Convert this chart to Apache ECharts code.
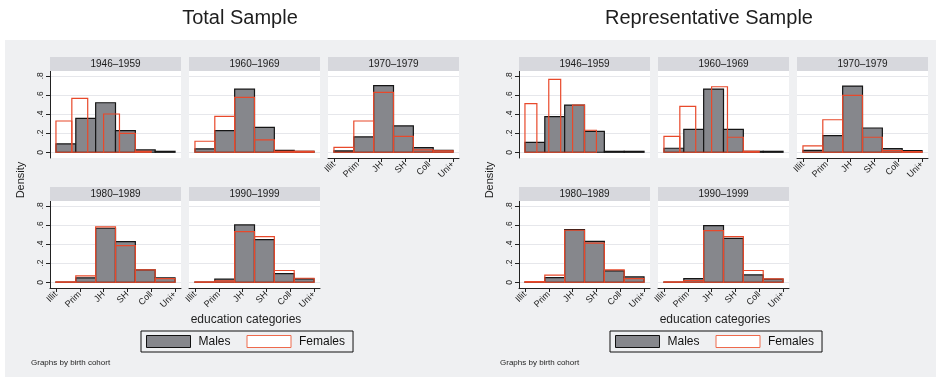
<!DOCTYPE html>
<html>
<head>
<meta charset="utf-8">
<script src="https://cdn.jsdelivr.net/npm/echarts@6/dist/echarts.min.js"></script>
<style>
  html, body { margin: 0; padding: 0; background: #ffffff; }
  #bg { position: absolute; left: 5px; top: 40px; width: 931px; height: 337px; background: #eff0f2; }
  #chart { position: absolute; left: 0; top: 0; width: 936px; height: 377px; }
</style>
</head>
<body>
<div id="bg"></div>
<div id="chart"></div>
<script>
// ---------- data ----------
const categories = ['Illit', 'Prim', 'JH', 'SH', 'Coll', 'Uni+'];
const cohorts = ['1946–1959', '1960–1969', '1970–1979', '1980–1989', '1990–1999'];
const sampleTitles = ['Total Sample', 'Representative Sample'];
const yTicks = [0, 0.2, 0.4, 0.6, 0.8];
const yTickLabels = ['0', '.2', '.4', '.6', '.8'];
const xTicks = [1, 2, 3, 4, 5, 6];

// densities per bin (6 bins per histogram)
const totalMales = [
  [0.087, 0.355, 0.518, 0.226, 0.024, 0.010],
  [0.035, 0.226, 0.660, 0.260, 0.020, 0.010],
  [0.014, 0.160, 0.696, 0.275, 0.049, 0.021],
  [0.002, 0.046, 0.565, 0.425, 0.130, 0.046],
  [0.002, 0.032, 0.600, 0.446, 0.091, 0.035]
];
const totalFemales = [
  [0.327, 0.563, 0.000, 0.400, 0.198, 0.010],
  [0.115, 0.376, 0.574, 0.129, 0.010, 0.010],
  [0.052, 0.327, 0.626, 0.167, 0.024, 0.014],
  [0.004, 0.067, 0.580, 0.383, 0.130, 0.039],
  [0.004, 0.014, 0.530, 0.477, 0.123, 0.042]
];
const repMales = [
  [0.104, 0.372, 0.494, 0.219, 0.010, 0.010],
  [0.042, 0.240, 0.661, 0.240, 0.010, 0.010],
  [0.020, 0.174, 0.692, 0.254, 0.038, 0.017],
  [0.002, 0.049, 0.551, 0.428, 0.119, 0.056],
  [0.002, 0.039, 0.593, 0.460, 0.077, 0.032]
];
const repFemales = [
  [0.508, 0.000, 0.762, 0.000, 0.494, 0.230],
  [0.167, 0.480, 0.000, 0.685, 0.157, 0.010],
  [0.066, 0.340, 0.594, 0.157, 0.017, 0.007],
  [0.007, 0.074, 0.544, 0.410, 0.130, 0.039],
  [0.004, 0.018, 0.540, 0.477, 0.123, 0.035]
];
// histogram ranges (education code 1..6)
const maleRange = [1, 6];
const totalFemaleRange = [[1, 5], [1, 6], [1, 6], [1, 6], [1, 6]];
const repFemaleRange = [[1, 4], [1, 5], [1, 6], [1, 6], [1, 6]];

// ---------- layout / style ----------
const FONT = "'Liberation Sans', Arial, Helvetica, sans-serif";
const chartOffsets = [0, 469];
const colLefts = [50, 189, 328];
const rowTops = [71, 201];
const panelW = 131, panelH = 87, stripH = 14;
const maleFill = '#86878c', maleStroke = '#151515';
const femStroke = '#e8492b';

function binItems(heights, range) {
  const n = heights.length, w = (range[1] - range[0]) / n;
  return heights.map((h, i) => [range[0] + i * w, range[0] + (i + 1) * w, h]);
}

function renderBar(fill, stroke, lw) {
  return function (params, api) {
    const p0 = api.coord([api.value(0), api.value(2)]);
    const p1 = api.coord([api.value(1), 0]);
    return {
      type: 'rect',
      shape: { x: p0[0], y: p0[1], width: p1[0] - p0[0], height: p1[1] - p0[1] },
      style: { fill: fill, stroke: stroke, lineWidth: lw }
    };
  };
}

const grids = [], xAxes = [], yAxes = [], series = [], graphics = [], legends = [];
const samples = [
  { males: totalMales, females: totalFemales, fRange: totalFemaleRange },
  { males: repMales, females: repFemales, fRange: repFemaleRange }
];

samples.forEach((s, si) => {
  const off = chartOffsets[si];
  cohorts.forEach((c, ci) => {
    const row = ci < 3 ? 0 : 1, col = ci < 3 ? ci : ci - 3;
    const left = off + colLefts[col], top = rowTops[row];
    const gi = grids.length;
    grids.push({ left: left, top: top, width: panelW, height: panelH, show: true,
      backgroundColor: '#ffffff', borderWidth: 0 });
    const showX = (row === 1) || (ci === 2);
    const showY = col === 0;
    xAxes.push({
      gridIndex: gi, type: 'value', min: 0.75, max: 6.25,
      axisLine: { show: showX, onZero: false, lineStyle: { color: '#222', width: 1 } },
      axisTick: { show: showX, length: 4, customValues: xTicks, lineStyle: { color: '#222' } },
      axisLabel: { show: showX, customValues: xTicks, rotate: 45, margin: 5, fontSize: 9,
        fontFamily: FONT, color: '#222',
        formatter: v => categories[Math.round(v) - 1] },
      splitLine: { show: false }
    });
    yAxes.push({
      gridIndex: gi, type: 'value', min: -0.06, max: 0.85,
      axisLine: { show: showY, lineStyle: { color: '#222', width: 1 } },
      axisTick: { show: showY, length: 4, customValues: yTicks, lineStyle: { color: '#222' } },
      axisLabel: { show: showY, customValues: yTicks, rotate: 90, margin: 5, fontSize: 8.5,
        fontFamily: FONT, color: '#222',
        formatter: v => yTickLabels[yTicks.findIndex(t => Math.abs(t - v) < 1e-6)] },
      splitLine: { show: true, lineStyle: { color: '#e6e7eb', width: 1 } }
    });
    series.push({
      type: 'custom', name: 'Males', xAxisIndex: gi, yAxisIndex: gi,
      renderItem: renderBar(maleFill, maleStroke, 1.2),
      itemStyle: { color: maleFill },
      encode: { x: [0, 1], y: 2 },
      data: binItems(s.males[ci], maleRange), z: 2
    });
    series.push({
      type: 'custom', name: 'Females', xAxisIndex: gi, yAxisIndex: gi,
      renderItem: renderBar('none', femStroke, 1.2),
      itemStyle: { color: '#ffffff' },
      encode: { x: [0, 1], y: 2 },
      data: binItems(s.females[ci], s.fRange[ci]), z: 3
    });
    // strip header
    graphics.push({ type: 'rect', shape: { x: left, y: top - stripH, width: panelW, height: stripH },
      style: { fill: '#d7d8dd' }, z: 1 });
    graphics.push({ type: 'text', x: left + panelW / 2, y: top - stripH / 2 + 0.5,
      style: { text: c, fill: '#1a1a1a', font: '10px ' + FONT, textAlign: 'center', textVerticalAlign: 'middle' }, z: 2 });
  });
  // titles & labels
  graphics.push({ type: 'text', x: off + 240, y: 18,
    style: { text: sampleTitles[si], fill: '#1e1e1e', font: '20px ' + FONT, textAlign: 'center', textVerticalAlign: 'middle' } });
  graphics.push({ type: 'text', x: off + 21, y: 180, rotation: Math.PI / 2,
    style: { text: 'Density', fill: '#1e1e1e', font: '11px ' + FONT, textAlign: 'center', textVerticalAlign: 'middle' } });
  graphics.push({ type: 'text', x: off + 246, y: 320,
    style: { text: 'education categories', fill: '#1e1e1e', font: '12px ' + FONT, textAlign: 'center', textVerticalAlign: 'middle' } });
  graphics.push({ type: 'text', x: off + 31, y: 363,
    style: { text: 'Graphs by birth cohort', fill: '#1e1e1e', font: '8px ' + FONT, textAlign: 'left', textVerticalAlign: 'middle' } });
  legends.push({
    left: off + 141, top: 331, orient: 'horizontal',
    itemWidth: 44, itemHeight: 12, itemGap: 16,
    padding: [4, 8, 4, 5],
    borderColor: '#111', borderWidth: 1, borderRadius: 0,
    selectedMode: false,
    textStyle: { fontSize: 12, fontFamily: FONT, color: '#111', padding: [0, 0, 0, 3] },
    data: [
      { name: 'Males', icon: 'rect', itemStyle: { color: maleFill, borderColor: '#111', borderWidth: 1 } },
      { name: 'Females', icon: 'rect', itemStyle: { color: '#ffffff', borderColor: '#ee6a4c', borderWidth: 1 } }
    ]
  });
});

const chart = echarts.init(document.getElementById('chart'), null, { renderer: 'canvas' });
chart.setOption({
  animation: false,
  backgroundColor: 'transparent',
  grid: grids, xAxis: xAxes, yAxis: yAxes, series: series,
  legend: legends,
  graphic: { elements: graphics }
});
</script>
</body>
</html>
